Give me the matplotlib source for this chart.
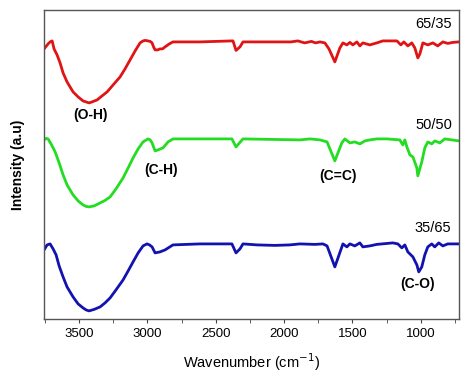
# FTIR spectra of three blend ratios, stacked
import matplotlib.pyplot as plt
from matplotlib.ticker import MultipleLocator

plt.rcParams["font.family"] = ["Liberation Sans", "DejaVu Sans"]

# 65/35 (red)
wn_6535 = [3756, 3727, 3712, 3697, 3683, 3661, 3639, 3617, 3588, 3544, 3507, 3471, 3449,
           3427, 3405, 3368, 3332, 3295, 3251, 3200, 3164, 3127, 3090, 3054, 3032, 3015,
           2996, 2980, 2966, 2955, 2944, 2925, 2908, 2890, 2871, 2840, 2813, 2616, 2382,
           2374, 2352, 2323, 2301, 1950, 1900, 1850, 1800, 1770, 1738, 1702, 1672, 1629,
           1592, 1570, 1541, 1519, 1497, 1468, 1446, 1424, 1373, 1322, 1278, 1175, 1146,
           1124, 1095, 1066, 1044, 1022, 1007, 985, 949, 912, 876, 839, 803, 766, 722]
int_6535 = [270, 275, 277, 278, 270, 264, 256, 246, 237, 227, 222, 218, 217,
            216, 217, 219, 223, 227, 234, 242, 250, 259, 268, 276, 278, 278.5,
            278, 277.5, 276, 272, 269, 269, 270, 270, 272, 275, 277, 277, 278,
            278, 268.5, 272, 277, 277, 278, 276, 277.5, 276, 277, 276, 270, 257,
            271, 276, 274, 276.5, 274, 277, 273, 276, 274, 276, 278, 278, 274,
            277, 273, 276, 271, 261, 265, 276, 274, 276, 273, 277, 275.5, 276.5, 277]

# 50/50 (green)
wn_5050 = [3756, 3741, 3727, 3705, 3675, 3646, 3617, 3588, 3544, 3507, 3471, 3449, 3427,
           3390, 3346, 3310, 3273, 3230, 3178, 3141, 3105, 3068, 3032, 2996, 2980, 2966,
           2944, 2923, 2886, 2849, 2813, 2616, 2382, 2352, 2301, 1884, 1811, 1738, 1686,
           1629, 1578, 1556, 1519, 1483, 1446, 1409, 1373, 1322, 1249, 1154, 1132, 1117,
           1102, 1080, 1058, 1029, 1022, 993, 971, 949, 920, 898, 861, 825, 773, 722]
int_5050 = [179, 180.5, 180, 175, 167, 156, 144, 134, 124, 118, 114, 112.5, 112,
            113, 116, 118.5, 122, 130, 141, 151, 161, 170, 177, 180, 179, 176,
            168, 169, 171, 177, 180, 180, 180, 172, 180, 179, 180, 179, 177,
            158, 176, 180, 176, 177, 175, 178, 179, 180, 180, 179, 174, 179,
            172, 164, 162, 151, 143, 157, 171, 177, 175, 178, 176, 180, 179, 178]

# 35/65 (blue)
wn_3565 = [3756, 3734, 3712, 3690, 3668, 3646, 3617, 3588, 3544, 3507, 3471, 3449, 3427,
           3390, 3346, 3310, 3273, 3230, 3178, 3141, 3105, 3068, 3032, 3003, 2985, 2966,
           2944, 2908, 2871, 2813, 2616, 2382, 2352, 2323, 2301, 2199, 2067, 1958, 1884,
           1775, 1716, 1686, 1629, 1570, 1541, 1519, 1483, 1446, 1424, 1373, 1322, 1205,
           1168, 1139, 1117, 1095, 1058, 1029, 1015, 993, 971, 949, 920, 898, 869, 839,
           803, 722]
int_3565 = [69, 74, 75, 70, 64, 53, 42, 32, 22, 15, 11, 9, 8,
            9.5, 12, 16, 21, 29, 39, 48, 57, 66, 73, 75, 74, 72,
            66, 67, 69, 74, 75, 75, 66, 70, 75, 74, 73.5, 74, 75,
            74.5, 75, 73, 52, 75, 72, 75, 73, 76, 72, 73, 74.5, 76,
            75, 71, 74, 67, 62, 54, 47, 52, 64, 72, 75, 72, 76, 73,
            75, 75]

fig, ax = plt.subplots(figsize=(4.74, 3.81), dpi=100)
fig.subplots_adjust(left=0.093, right=0.968, bottom=0.163, top=0.974)

line_kw = dict(lw=2.0, solid_joinstyle="round", solid_capstyle="round")
ax.plot(wn_6535, int_6535, color="#e01414", **line_kw)
ax.plot(wn_5050, int_5050, color="#22dd22", **line_kw)
ax.plot(wn_3565, int_3565, color="#1212b0", **line_kw)

# sample labels
ax.text(773, 295, "65/35", ha="right", va="center", fontsize=10.5)
ax.text(773, 194, "50/50", ha="right", va="center", fontsize=10.5)
ax.text(781, 91, "35/65", ha="right", va="center", fontsize=10.5)

# band assignments
ax.text(3416, 204, "(O-H)", ha="center", va="center", fontsize=10, fontweight="bold")
ax.text(2897, 149, "(C-H)", ha="center", va="center", fontsize=10, fontweight="bold")
ax.text(1607, 143, "(C=C)", ha="center", va="center", fontsize=10, fontweight="bold")
ax.text(1022, 35, "(C-O)", ha="center", va="center", fontsize=10, fontweight="bold")

ax.set_xlim(3756, 722)
ax.set_ylim(0, 309)
ax.xaxis.set_major_locator(MultipleLocator(500))
ax.xaxis.set_minor_locator(MultipleLocator(250))
ax.tick_params(axis="x", which="both", direction="out", length=3, labelsize=9.5,
               color="#444444")
ax.set_yticks([])
for s in ax.spines.values():
    s.set_color("#555555")
    s.set_linewidth(1.0)

ax.set_xlabel("Wavenumber (cm$^{-1}$)", fontsize=10.5, labelpad=8)
ax.set_ylabel("Intensity (a.u)", fontsize=10, fontweight="bold", labelpad=14)

plt.savefig("out.png", dpi=100)
